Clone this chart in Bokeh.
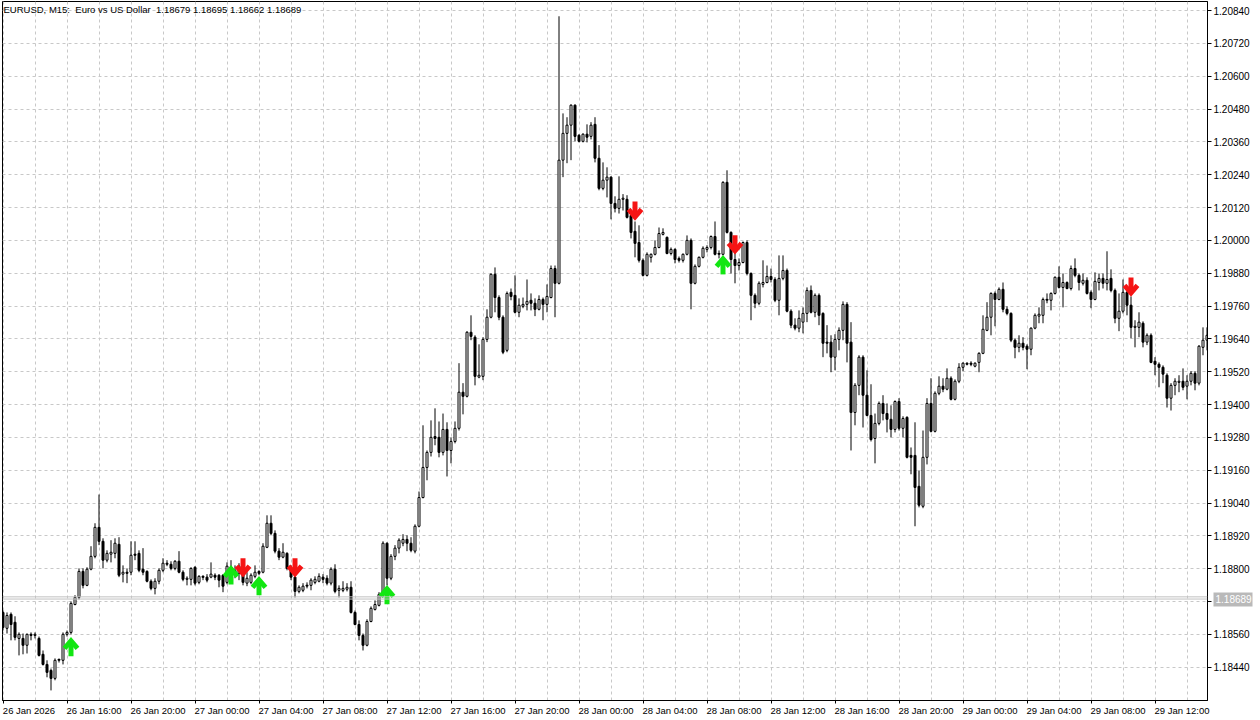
from bokeh.plotting import figure
from bokeh.models import (ColumnDataSource, FixedTicker, Label, Range1d, Span,
                          PrintfTickFormatter, LinearAxis)
from bokeh.embed import file_html
from bokeh.resources import INLINE

FONT = "Liberation Sans"

chart_title = "EURUSD, M15:\u00a0 Euro vs US Dollar\u00a0 1.18679 1.18695 1.18662 1.18689"
bid_price = 1.18689
ask_price = 1.18697
bid_label = "1.18689"

time_tick_idx = [0, 16, 32, 48, 64, 80, 96, 112, 128, 144, 160, 176, 192, 208, 224, 240, 256, 272, 288]
time_tick_labels = ["26 Jan 2026", "26 Jan 16:00", "26 Jan 20:00", "27 Jan 00:00", "27 Jan 04:00", "27 Jan 08:00",
                    "27 Jan 12:00", "27 Jan 16:00", "27 Jan 20:00", "28 Jan 00:00", "28 Jan 04:00",
                    "28 Jan 08:00", "28 Jan 12:00", "28 Jan 16:00", "28 Jan 20:00", "29 Jan 00:00",
                    "29 Jan 04:00", "29 Jan 08:00", "29 Jan 12:00"]

price_ticks = [1.18440, 1.18560, 1.18680, 1.18800, 1.18920, 1.19040, 1.19160, 1.19280, 1.19400,
               1.19520, 1.19640, 1.19760, 1.19880, 1.20000, 1.20120, 1.20240, 1.20360, 1.20480,
               1.20600, 1.20720, 1.20840]

opens = [
1.18640,1.18582,1.18633,1.18604,1.18545,1.18545,1.18520,1.18560,1.18556,1.18545,1.18487,1.18450,1.18428,1.18399,1.18465,1.18465,
1.18560,1.18567,1.18669,1.18695,1.18790,1.18739,1.18798,1.18845,1.18951,1.18900,1.18831,1.18853,1.18856,1.18889,1.18780,1.18787,
1.18787,1.18853,1.18856,1.18798,1.18790,1.18754,1.18728,1.18754,1.18794,1.18820,1.18816,1.18801,1.18827,1.18787,1.18761,1.18761,
1.18805,1.18750,1.18772,1.18769,1.18769,1.18776,1.18776,1.18776,1.18750,1.18805,1.18794,1.18783,1.18801,1.18747,1.18750,1.18772,
1.18790,1.18787,1.18878,1.18966,1.18929,1.18864,1.18842,1.18856,1.18801,1.18769,1.18717,1.18721,1.18736,1.18739,1.18750,1.18754,
1.18769,1.18765,1.18747,1.18798,1.18721,1.18721,1.18725,1.18732,1.18640,1.18596,1.18556,1.18520,1.18607,1.18651,1.18666,1.18703,
1.18893,1.18765,1.18845,1.18875,1.18893,1.18907,1.18893,1.18864,1.18955,1.19060,1.19170,1.19225,1.19283,1.19280,1.19225,1.19309,
1.19232,1.19265,1.19313,1.19445,1.19430,1.19664,1.19646,1.19500,1.19503,1.19638,1.19719,1.19876,1.19791,1.19719,1.19598,1.19810,
1.19799,1.19737,1.19759,1.19766,1.19781,1.19770,1.19748,1.19784,1.19766,1.19791,1.19897,1.19843,1.20293,1.20391,1.20421,1.20494,
1.20384,1.20362,1.20388,1.20380,1.20424,1.20300,1.20190,1.20220,1.20231,1.20135,1.20117,1.20150,1.20150,1.20091,1.20033,1.19992,
1.19927,1.19872,1.19938,1.19949,1.19974,1.20022,1.20011,1.19952,1.19967,1.19934,1.19927,1.19949,1.20000,1.19843,1.19905,1.19938,
1.19967,1.19974,1.20014,1.19949,1.19949,1.20212,1.20029,1.19930,1.19908,1.19919,1.19992,1.19879,1.19799,1.19770,1.19839,1.19846,
1.19868,1.19857,1.19781,1.19861,1.19890,1.19741,1.19690,1.19679,1.19701,1.19733,1.19817,1.19737,1.19799,1.19733,1.19628,1.19628,
1.19573,1.19638,1.19671,1.19766,1.19628,1.19371,1.19470,1.19573,1.19434,1.19360,1.19276,1.19331,1.19404,1.19367,1.19346,1.19309,
1.19411,1.19313,1.19353,1.19214,1.19214,1.19101,1.19028,1.19207,1.19404,1.19302,1.19441,1.19467,1.19456,1.19496,1.19419,1.19485,
1.19536,1.19551,1.19551,1.19540,1.19554,1.19587,1.19671,1.19719,1.19806,1.19784,1.19821,1.19748,1.19733,1.19635,1.19609,1.19624,
1.19613,1.19602,1.19679,1.19723,1.19726,1.19781,1.19781,1.19806,1.19865,1.19828,1.19846,1.19824,1.19897,1.19872,1.19843,1.19854,
1.19810,1.19784,1.19846,1.19861,1.19843,1.19861,1.19817,1.19715,1.19741,1.19810,1.19763,1.19682,1.19682,1.19697,1.19628,1.19653,
1.19558,1.19547,1.19536,1.19507,1.19423,1.19470,1.19481,1.19485,1.19467,1.19485,1.19514,1.19478,1.19609,1.19635]

highs = [
1.18647,1.18640,1.18640,1.18626,1.18567,1.18563,1.18563,1.18567,1.18567,1.18552,1.18501,1.18465,1.18435,1.18472,1.18472,1.18567,
1.18574,1.18680,1.18703,1.18801,1.18801,1.18805,1.18882,1.18966,1.19071,1.18911,1.18867,1.18904,1.18911,1.18915,1.18812,1.18801,
1.18900,1.18900,1.18867,1.18875,1.18794,1.18761,1.18765,1.18801,1.18838,1.18831,1.18827,1.18831,1.18864,1.18794,1.18772,1.18805,
1.18809,1.18776,1.18776,1.18780,1.18823,1.18783,1.18780,1.18780,1.18823,1.18831,1.18812,1.18820,1.18812,1.18787,1.18783,1.18812,
1.18794,1.18893,1.18995,1.18995,1.18940,1.18875,1.18893,1.18860,1.18812,1.18776,1.18739,1.18747,1.18750,1.18765,1.18772,1.18783,
1.18780,1.18776,1.18805,1.18816,1.18739,1.18754,1.18747,1.18754,1.18647,1.18611,1.18563,1.18615,1.18662,1.18684,1.18714,1.18900,
1.18896,1.18853,1.18886,1.18911,1.18926,1.18922,1.18915,1.18962,1.19082,1.19324,1.19232,1.19342,1.19386,1.19338,1.19367,1.19335,
1.19280,1.19338,1.19551,1.19478,1.19668,1.19726,1.19653,1.19620,1.19646,1.19748,1.19879,1.19901,1.19799,1.19726,1.19813,1.19824,
1.19872,1.19788,1.19791,1.19857,1.19806,1.19788,1.19799,1.19791,1.19839,1.19908,1.19908,1.20819,1.20464,1.20450,1.20497,1.20497,
1.20388,1.20391,1.20424,1.20432,1.20450,1.20348,1.20285,1.20267,1.20234,1.20161,1.20234,1.20169,1.20165,1.20109,1.20069,1.20055,
1.19934,1.19956,1.19952,1.20000,1.20047,1.20044,1.20014,1.19974,1.19971,1.19941,1.19952,1.20018,1.20007,1.19912,1.19941,1.19978,
1.19982,1.20018,1.20069,1.19963,1.20216,1.20256,1.20033,1.19963,1.19934,1.19996,1.20000,1.19883,1.19806,1.19850,1.19927,1.19908,
1.19897,1.19865,1.19945,1.19945,1.19897,1.19748,1.19715,1.19744,1.19755,1.19828,1.19835,1.19806,1.19806,1.19737,1.19690,1.19653,
1.19657,1.19682,1.19777,1.19774,1.19701,1.19478,1.19580,1.19580,1.19525,1.19474,1.19367,1.19411,1.19434,1.19404,1.19397,1.19415,
1.19423,1.19357,1.19357,1.19243,1.19335,1.19159,1.19305,1.19423,1.19496,1.19448,1.19503,1.19496,1.19532,1.19503,1.19492,1.19551,
1.19554,1.19554,1.19558,1.19554,1.19591,1.19726,1.19774,1.19810,1.19813,1.19828,1.19846,1.19759,1.19737,1.19642,1.19653,1.19646,
1.19620,1.19682,1.19733,1.19755,1.19791,1.19806,1.19810,1.19868,1.19905,1.19879,1.19850,1.19908,1.19934,1.19879,1.19879,1.19865,
1.19817,1.19883,1.19879,1.19879,1.19960,1.19894,1.19824,1.19806,1.19857,1.19832,1.19795,1.19708,1.19737,1.19704,1.19660,1.19660,
1.19573,1.19554,1.19543,1.19514,1.19478,1.19496,1.19507,1.19532,1.19507,1.19522,1.19522,1.19617,1.19682,1.19682]

lows = [
1.18574,1.18563,1.18538,1.18538,1.18483,1.18487,1.18490,1.18538,1.18545,1.18479,1.18446,1.18403,1.18355,1.18392,1.18457,1.18450,
1.18552,1.18560,1.18666,1.18688,1.18728,1.18736,1.18794,1.18838,1.18886,1.18801,1.18823,1.18823,1.18838,1.18769,1.18750,1.18747,
1.18776,1.18831,1.18787,1.18776,1.18750,1.18721,1.18706,1.18743,1.18787,1.18809,1.18794,1.18794,1.18783,1.18754,1.18739,1.18739,
1.18739,1.18743,1.18758,1.18750,1.18765,1.18758,1.18732,1.18714,1.18743,1.18758,1.18765,1.18758,1.18739,1.18736,1.18743,1.18765,
1.18776,1.18783,1.18875,1.18922,1.18856,1.18831,1.18838,1.18794,1.18758,1.18695,1.18710,1.18714,1.18728,1.18721,1.18743,1.18750,
1.18747,1.18739,1.18739,1.18710,1.18695,1.18714,1.18717,1.18636,1.18593,1.18538,1.18501,1.18516,1.18604,1.18647,1.18662,1.18695,
1.18739,1.18758,1.18831,1.18856,1.18882,1.18864,1.18860,1.18856,1.18951,1.19057,1.19123,1.19210,1.19251,1.19207,1.19214,1.19137,
1.19185,1.19258,1.19305,1.19364,1.19426,1.19635,1.19470,1.19496,1.19489,1.19628,1.19715,1.19737,1.19708,1.19584,1.19591,1.19781,
1.19733,1.19719,1.19752,1.19744,1.19744,1.19723,1.19744,1.19708,1.19737,1.19788,1.19719,1.19839,1.20231,1.20282,1.20293,1.20362,
1.20358,1.20358,1.20358,1.20369,1.20285,1.20183,1.20183,1.20157,1.20077,1.20102,1.20098,1.20109,1.20080,1.20007,1.19938,1.19919,
1.19868,1.19868,1.19919,1.19945,1.19971,1.20018,1.19949,1.19945,1.19916,1.19919,1.19919,1.19945,1.19748,1.19839,1.19901,1.19934,
1.19956,1.19967,1.19945,1.19934,1.19945,1.20025,1.19879,1.19843,1.19890,1.19916,1.19872,1.19708,1.19752,1.19763,1.19828,1.19843,
1.19846,1.19774,1.19726,1.19854,1.19737,1.19679,1.19671,1.19664,1.19660,1.19701,1.19733,1.19719,1.19690,1.19573,1.19587,1.19518,
1.19525,1.19598,1.19635,1.19554,1.19232,1.19324,1.19434,1.19316,1.19357,1.19265,1.19185,1.19324,1.19342,1.19298,1.19280,1.19298,
1.19305,1.19280,1.19203,1.19145,1.18955,1.19024,1.19021,1.19181,1.19298,1.19298,1.19434,1.19445,1.19452,1.19415,1.19415,1.19478,
1.19522,1.19543,1.19540,1.19536,1.19518,1.19584,1.19668,1.19653,1.19686,1.19781,1.19737,1.19726,1.19628,1.19569,1.19591,1.19598,
1.19529,1.19580,1.19675,1.19697,1.19697,1.19770,1.19744,1.19802,1.19824,1.19755,1.19821,1.19817,1.19865,1.19817,1.19835,1.19802,
1.19752,1.19781,1.19817,1.19824,1.19817,1.19810,1.19697,1.19668,1.19733,1.19726,1.19642,1.19609,1.19646,1.19609,1.19617,1.19551,
1.19507,1.19463,1.19478,1.19389,1.19378,1.19434,1.19445,1.19452,1.19419,1.19470,1.19452,1.19470,1.19580,1.19598]

closes = [
1.18585,1.18629,1.18596,1.18549,1.18560,1.18520,1.18560,1.18556,1.18560,1.18483,1.18450,1.18421,1.18399,1.18465,1.18468,1.18560,
1.18567,1.18673,1.18695,1.18790,1.18739,1.18798,1.18845,1.18951,1.18900,1.18831,1.18856,1.18860,1.18893,1.18776,1.18787,1.18783,
1.18849,1.18849,1.18794,1.18787,1.18754,1.18728,1.18754,1.18794,1.18820,1.18816,1.18801,1.18827,1.18787,1.18761,1.18765,1.18801,
1.18747,1.18772,1.18769,1.18758,1.18780,1.18769,1.18758,1.18736,1.18809,1.18794,1.18783,1.18809,1.18750,1.18765,1.18776,1.18787,
1.18783,1.18882,1.18966,1.18929,1.18864,1.18842,1.18860,1.18801,1.18769,1.18717,1.18732,1.18736,1.18739,1.18758,1.18761,1.18772,
1.18761,1.18747,1.18798,1.18717,1.18728,1.18728,1.18732,1.18640,1.18596,1.18556,1.18520,1.18607,1.18655,1.18669,1.18706,1.18893,
1.18765,1.18845,1.18875,1.18904,1.18907,1.18893,1.18867,1.18955,1.19060,1.19170,1.19225,1.19280,1.19276,1.19225,1.19309,1.19232,
1.19265,1.19313,1.19445,1.19430,1.19664,1.19649,1.19503,1.19507,1.19638,1.19719,1.19876,1.19791,1.19719,1.19591,1.19806,1.19795,
1.19737,1.19763,1.19766,1.19777,1.19770,1.19748,1.19784,1.19766,1.19795,1.19897,1.19843,1.20293,1.20391,1.20421,1.20494,1.20380,
1.20362,1.20388,1.20377,1.20421,1.20300,1.20190,1.20220,1.20231,1.20135,1.20117,1.20150,1.20154,1.20084,1.20029,1.19989,1.19927,
1.19872,1.19949,1.19949,1.19974,1.20025,1.20029,1.19952,1.19967,1.19930,1.19927,1.19949,1.20000,1.19843,1.19905,1.19938,1.19971,
1.19974,1.20014,1.19949,1.19952,1.20212,1.20029,1.19930,1.19908,1.19919,1.19992,1.19879,1.19799,1.19770,1.19843,1.19846,1.19868,
1.19857,1.19781,1.19861,1.19890,1.19741,1.19690,1.19679,1.19715,1.19733,1.19817,1.19737,1.19799,1.19726,1.19624,1.19624,1.19573,
1.19638,1.19671,1.19766,1.19624,1.19371,1.19470,1.19573,1.19434,1.19360,1.19272,1.19331,1.19404,1.19367,1.19346,1.19309,1.19411,
1.19313,1.19349,1.19207,1.19207,1.19097,1.19032,1.19207,1.19404,1.19302,1.19441,1.19467,1.19456,1.19496,1.19419,1.19485,1.19536,
1.19551,1.19547,1.19547,1.19551,1.19587,1.19675,1.19719,1.19806,1.19784,1.19821,1.19748,1.19733,1.19635,1.19609,1.19624,1.19609,
1.19602,1.19679,1.19726,1.19730,1.19784,1.19784,1.19806,1.19865,1.19828,1.19846,1.19824,1.19897,1.19872,1.19846,1.19854,1.19806,
1.19784,1.19850,1.19861,1.19843,1.19857,1.19817,1.19715,1.19741,1.19810,1.19763,1.19682,1.19686,1.19701,1.19628,1.19653,1.19554,
1.19547,1.19536,1.19511,1.19423,1.19470,1.19485,1.19485,1.19463,1.19485,1.19514,1.19478,1.19613,1.19635,1.19653]

# indicator signals: bar index and arrow price
buy_idx = [17, 57, 64, 96, 180]
buy_price = [1.18549, 1.18812, 1.18772, 1.18739, 1.19945]
sell_idx = [60, 73, 158, 183, 282]
sell_price = [1.18769, 1.18769, 1.20073, 1.19949, 1.19795]

# ---------------------------------------------------------------- layout
FRAME_W, FRAME_H = 1205, 699
BAR_PX = 4.0
PRICE_PER_PX = 0.00003655
x_start = -0.125
x_end = x_start + FRAME_W / BAR_PX
y_end = 1.20873
y_start = y_end - FRAME_H * PRICE_PER_PX
PX = 1.0 / BAR_PX
PY = PRICE_PER_PX

p = figure(frame_width=FRAME_W, frame_height=FRAME_H,
           x_range=Range1d(x_start, x_end), y_range=Range1d(y_start, y_end),
           output_backend="svg", toolbar_location=None, y_axis_location="right",
           min_border_left=2, min_border_top=1, min_border_right=0, min_border_bottom=0,
           background_fill_color="white", border_fill_color="white",
           outline_line_color="black", outline_line_width=1)

grid_col = "#c8c8c8"
p.xgrid.ticker = FixedTicker(ticks=list(range(0, len(opens), 8)))
p.ygrid.ticker = FixedTicker(ticks=price_ticks)
for g in (p.xgrid, p.ygrid):
    g.grid_line_color = grid_col
    g.grid_line_dash = "3 3"
    g.grid_line_width = 1

# time axis: tick marks on the main axis, labels (left-aligned at the ticks) on a second axis
xa = p.xaxis[0]
xa.ticker = FixedTicker(ticks=time_tick_idx, minor_ticks=[])
xa.major_label_overrides = {k: "" for k in time_tick_idx}
xa.major_label_standoff = 0
xa.major_tick_out = 3
LABEL_SHIFT = [6.5] + [6.75] * (len(time_tick_idx) - 1)   # half label width, in bars
label_anchor = [t + s for t, s in zip(time_tick_idx, LABEL_SHIFT)]
xlab = LinearAxis(ticker=FixedTicker(ticks=label_anchor, minor_ticks=[]),
                  major_label_overrides={a: t for a, t in zip(label_anchor, time_tick_labels)},
                  axis_line_color=None, major_tick_line_color=None, minor_tick_line_color=None,
                  major_tick_out=0, major_tick_in=0, major_label_standoff=1,
                  major_label_text_font=FONT, major_label_text_font_size="9.5px",
                  major_label_text_color="black")
p.add_layout(xlab, "below")

ya = p.yaxis[0]
ya.ticker = FixedTicker(ticks=price_ticks, minor_ticks=[])
ya.formatter = PrintfTickFormatter(format="%.5f")
ya.major_tick_out = 4
ya.major_label_standoff = 2
for ax in (xa, ya):
    ax.axis_line_color = "black"
    ax.major_tick_line_color = "black"
    ax.major_tick_in = 0
    ax.minor_tick_line_color = None
    ax.major_label_text_font = FONT
    ax.major_label_text_color = "black"
xa.major_label_text_font_size = "9.5px"
ya.major_label_text_font_size = "10px"

# bid price tag on the price scale: a wide grey tick with the white price on it
bid_axis = LinearAxis(ticker=FixedTicker(ticks=[bid_price], minor_ticks=[]),
                      major_label_overrides={bid_price: bid_label},
                      axis_line_color=None, minor_tick_line_color=None,
                      major_tick_line_color="#b9b9b9", major_tick_line_width=14,
                      major_tick_in=39, major_tick_out=0, major_label_standoff=-37,
                      major_label_text_font=FONT, major_label_text_font_size="10px",
                      major_label_text_color="white")
p.add_layout(bid_axis, "right")

# ---------------------------------------------------------------- bid / ask
for lvl in (bid_price, ask_price):
    p.add_layout(Span(location=lvl, dimension="width", line_color="#c0c0c0", line_width=1))

# ---------------------------------------------------------------- candles
idx = list(range(len(opens)))
tops = [max(o, c) for o, c in zip(opens, closes)]
bots = [min(o, c) for o, c in zip(opens, closes)]
fills = ["white" if c >= o else "black" for o, c in zip(opens, closes)]
src = ColumnDataSource(dict(x=idx, o=opens, h=highs, l=lows, c=closes, top=tops, bot=bots, fill=fills))
p.segment(x0="x", y0="l", x1="x", y1="h", source=src, line_color="black", line_width=1)
p.vbar(x="x", width=0.5, top="top", bottom="bot", source=src,
       fill_color="fill", line_color="black", line_width=1)
flat = [i for i in idx if abs(tops[i] - bots[i]) < PY]
if flat:
    p.segment(x0=[i - 0.3 for i in flat], x1=[i + 0.3 for i in flat],
              y0=[closes[i] for i in flat], y1=[closes[i] for i in flat],
              line_color="black", line_width=1)

# ---------------------------------------------------------------- arrows
def arrows(indices, tips, up):
    s = 1 if up else -1
    stems_x, stems_y, chev_x, chev_y = [], [], [], []
    for i, t in zip(indices, tips):
        stems_x.append([i, i])
        stems_y.append([t - s * 4 * PY, t - s * 19 * PY])
        chev_x.append([i - 6.5 * PX, i, i + 6.5 * PX])
        chev_y.append([t - s * 11 * PY, t - s * 3.5 * PY, t - s * 11 * PY])
    return stems_x, stems_y, chev_x, chev_y

for ids, tips, up, col in ((buy_idx, buy_price, True, "#12e612"), (sell_idx, sell_price, False, "#f51414")):
    sx, sy, cx, cy = arrows(ids, tips, up)
    p.multi_line(xs=sx, ys=sy, line_color=col, line_width=5, line_cap="butt")
    p.multi_line(xs=cx, ys=cy, line_color=col, line_width=5, line_join="miter", line_cap="butt")

# ---------------------------------------------------------------- title
p.add_layout(Label(x=x_start, y=y_end, x_offset=1, y_offset=-2, text=chart_title,
                   text_baseline="top", text_align="left", text_font=FONT,
                   text_font_size="9.5px", text_color="black"))

open("out.html", "w").write(file_html(p, INLINE))
